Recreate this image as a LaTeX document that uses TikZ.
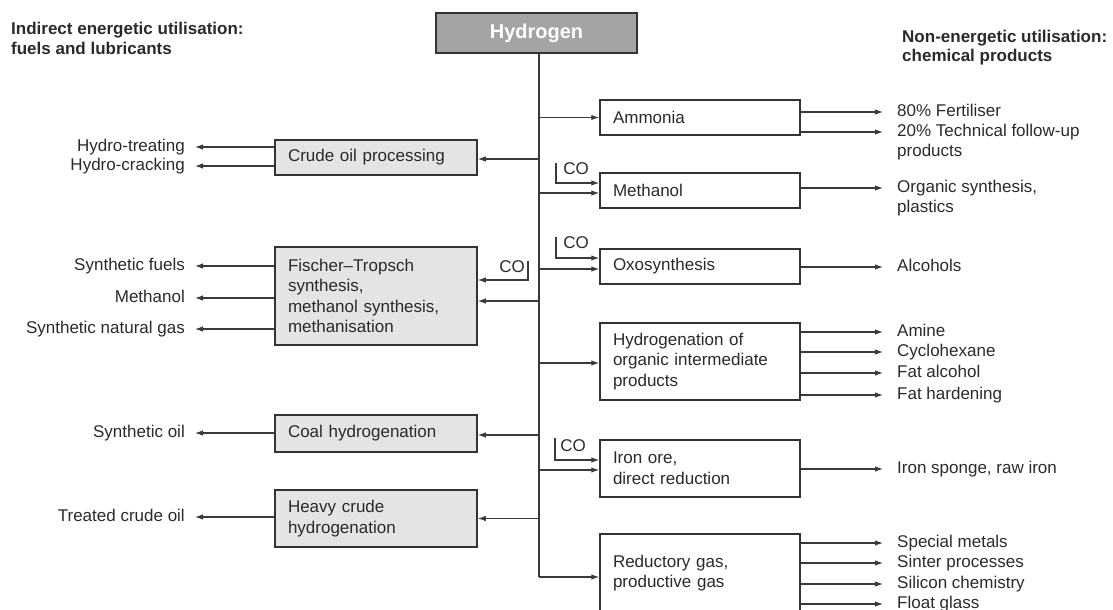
\documentclass[tikz,border=0pt]{standalone}
\usepackage{fontspec}
\setmainfont{Liberation Sans}
\usetikzlibrary{arrows.meta,calc}

\definecolor{txt}{HTML}{2A2A2A}
\definecolor{edge}{HTML}{333333}
\definecolor{linec}{HTML}{3A3A3A}
\definecolor{boxgray}{HTML}{E4E4E4}
\definecolor{hydgray}{HTML}{A4A4A4}

\newcommand\lblfont{\fontsize{17}{20.6}\selectfont}

\tikzset{
  lbl/.style={font=\lblfont, text=txt, inner sep=0pt, text height=12pt, text depth=3pt},
  leftlbl/.style={lbl, anchor=east},
  rightlbl/.style={lbl, anchor=west},
  titlelbl/.style={lbl, font=\lblfont\bfseries, anchor=west},
  procbox/.style={draw=edge, line width=1.5pt, align=left, inner xsep=13pt,
                  font=\lblfont, text=txt},
  leftbox/.style={procbox, fill=boxgray, text width=176pt, minimum width=202pt},
  rightbox/.style={procbox, fill=white, text width=174pt, minimum width=200pt},
  arr/.style={draw=linec, line width=1.1pt, -{Latex[length=8pt,width=5.5pt]}},
  ln/.style={draw=linec, line width=1.1pt},
  colbl/.style={lbl}
}

\begin{document}
\begin{tikzpicture}[x=1pt, y=-1pt]
\path[use as bounding box, clip] (0,0) rectangle (1113,610);

% headings
\node[titlelbl] (tl1) at (11,30) {Indirect energetic utilisation:};
\node[titlelbl] (tl2) at (11,50) {fuels and lubricants};
\node[titlelbl] (tr1) at (902,38) {Non-energetic utilisation:};
\node[titlelbl] (tr2) at (902,57) {chemical products};

% source
\node[draw=edge, line width=1.5pt, fill=hydgray, minimum width=201pt, minimum height=40pt,
      text=white, font=\fontsize{20}{24}\selectfont\bfseries] (hyd) at (536.5,33) {Hydrogen};

% processes, fuels side
\node[leftbox, minimum height=35pt] (crude) at (376,157.5) {Crude oil processing};
\node[leftbox, minimum height=98pt] (fis) at (376,296)
  {Fischer--Tropsch\\synthesis,\\methanol synthesis,\\methanisation};
\node[leftbox, minimum height=37pt] (coal) at (376,433.5) {Coal hydrogenation};
\node[leftbox, minimum height=57pt] (heavy) at (376,518.5) {Heavy crude\\hydrogenation};

% processes, chemicals side
\node[rightbox, minimum height=35pt] (amm) at (700,117.5) {Ammonia};
\node[rightbox, minimum height=35pt] (meth) at (700,190.5) {Methanol};
\node[rightbox, minimum height=35pt] (oxo) at (700,266.5) {Oxosynthesis};
\node[rightbox, minimum height=77pt] (hyo) at (700,361.5)
  {Hydrogenation of\\organic intermediate\\products};
\node[rightbox, minimum height=57pt] (iron) at (700,468.5) {Iron ore,\\direct reduction};
\node[rightbox, minimum height=78pt] (red) at (700,573) {Reductory gas,\\productive gas};

% fuel products
\node[leftlbl] (htreat) at (185,147) {Hydro-treating};
\node[leftlbl] (hcrack) at (185,166) {Hydro-cracking};
\node[leftlbl] (sfuel) at (185,266) {Synthetic fuels};
\node[leftlbl] (lmeth) at (185,298) {Methanol};
\node[leftlbl] (sng) at (185,329) {Synthetic natural gas};
\node[leftlbl] (soil) at (185,433) {Synthetic oil};
\node[leftlbl] (tco) at (185,517) {Treated crude oil};

% chemical products
\node[rightlbl] (fert) at (897,112) {80\% Fertiliser};
\node[rightlbl] (tech) at (897,132) {20\% Technical follow-up};
\node[rightlbl] (techb) at (897,152) {products};
\node[rightlbl] (orgs) at (897,188) {Organic synthesis,};
\node[rightlbl] (plast) at (897,208) {plastics};
\node[rightlbl] (alc) at (897,267) {Alcohols};
\node[rightlbl] (amine) at (897,332) {Amine};
\node[rightlbl] (cyclo) at (897,352) {Cyclohexane};
\node[rightlbl] (fatalc) at (897,373) {Fat alcohol};
\node[rightlbl] (fathard) at (897,395) {Fat hardening};
\node[rightlbl] (ironsp) at (897,469) {Iron sponge, raw iron};
\node[rightlbl] (spec) at (897,543) {Special metals};
\node[rightlbl] (sinter) at (897,563) {Sinter processes};
\node[rightlbl] (silicon) at (897,584) {Silicon chemistry};
\node[rightlbl] (float) at (897,604) {Float glass};

% CO feeds
\node[colbl] (cofis) at (512,268) {CO};
\node[colbl] (cometh) at (576,170) {CO};
\node[colbl] (cooxo) at (576,244) {CO};
\node[colbl] (coiron) at (573,447) {CO};
\coordinate (cofisT) at (528,261);
\coordinate (comethT) at (556,163);
\coordinate (cooxoT) at (556,237);
\coordinate (coironT) at (555,438);

% hydrogen trunk
\coordinate (tb) at (539,577);
\draw[ln] (hyd.south -| tb) -- (tb);
\draw[arr] (tb) -- (red.west |- tb);

% branches to the chemicals side
\draw[arr] (tb |- amm.west) -- (amm.west);
\draw[arr] ($(tb |- meth.west)+(0,2.5)$) -- ($(meth.west)+(0,2.5)$);
\draw[arr] (comethT) |- ($(meth.west)+(0,-7.5)$);
\draw[arr] ($(tb |- oxo.west)+(0,2.5)$) -- ($(oxo.west)+(0,2.5)$);
\draw[arr] (cooxoT) |- ($(oxo.west)+(0,-8.5)$);
\draw[arr] ($(tb |- hyo.west)+(0,1.5)$) -- ($(hyo.west)+(0,1.5)$);
\draw[arr] ($(tb |- iron.west)+(0,1.5)$) -- ($(iron.west)+(0,1.5)$);
\draw[arr] (coironT) |- ($(iron.west)+(0,-8.5)$);

% branches to the fuels side
\draw[arr] ($(tb |- crude.east)+(0,1.5)$) -- ($(crude.east)+(0,1.5)$);
\draw[arr] ($(tb |- fis.east)+(0,5)$) -- ($(fis.east)+(0,5)$);
\draw[arr] (cofisT) |- ($(fis.east)+(0,-16)$);
\draw[arr] ($(tb |- coal.east)+(0,1.5)$) -- ($(coal.east)+(0,1.5)$);
\draw[arr] (tb |- heavy.east) -- (heavy.east);

% fuel outputs
\foreach \b/\t in {crude/htreat, crude/hcrack, fis/sfuel, fis/lmeth, fis/sng, coal/soil, heavy/tco}
  \draw[arr] (\b.west |- \t.east) -- ([xshift=10pt]\t.east);

% chemical outputs
\foreach \b/\t in {amm/fert, amm/tech, meth/orgs, oxo/alc, hyo/amine, hyo/cyclo, hyo/fatalc,
                   hyo/fathard, iron/ironsp, red/spec, red/sinter, red/silicon, red/float}
  \draw[arr] (\b.east |- \t.west) -- ([xshift=-14pt]\t.west);
\end{tikzpicture}
\end{document}
